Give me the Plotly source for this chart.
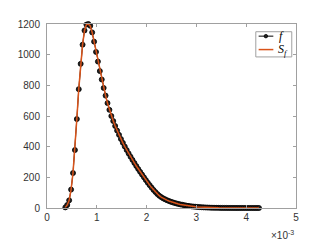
import plotly.graph_objects as go

# x values in units of 1e-3
x_e3 = [0.368, 0.4065, 0.445, 0.4835, 0.522, 0.5605, 0.599, 0.6375, 0.676, 0.7145,
        0.753, 0.7915, 0.83, 0.8685, 0.907, 0.9455, 0.984, 1.0225, 1.061, 1.0995,
        1.138, 1.1765, 1.215, 1.2535, 1.292, 1.3305, 1.369, 1.4075, 1.446, 1.4845,
        1.523, 1.5615, 1.6, 1.6385, 1.677, 1.7155, 1.754, 1.7925, 1.831, 1.8695,
        1.908, 1.9465, 1.985, 2.0235, 2.062, 2.1005, 2.139, 2.1775, 2.216, 2.2545,
        2.293, 2.3315, 2.37, 2.4085, 2.447, 2.4855, 2.524, 2.5625, 2.601, 2.6395,
        2.678, 2.7165, 2.755, 2.7935, 2.832, 2.8705, 2.909, 2.9475, 2.986, 3.0245,
        3.063, 3.1015, 3.14, 3.1785, 3.217, 3.2555, 3.294, 3.3325, 3.371, 3.4095,
        3.448, 3.4865, 3.525, 3.5635, 3.602, 3.6405, 3.679, 3.7175, 3.756, 3.7945,
        3.833, 3.8715, 3.91, 3.9485, 3.987, 4.0255, 4.064, 4.1025, 4.141, 4.1795,
        4.218, 4.2565]

f_vals = [4, 20, 50, 120, 228, 378, 580, 775, 940, 1065,
          1158, 1196, 1200, 1188, 1145, 1085, 1018, 955, 893, 838,
          783, 733, 684, 640, 600, 567, 535, 505, 477, 450,
          425, 401, 378, 356, 335, 314, 294, 274, 255, 236,
          218, 200, 182, 165, 149, 133, 118, 104, 91, 80,
          71, 63, 57, 51, 46, 41, 37, 33, 29.5, 26.5,
          23.5, 21, 18.5, 16, 14, 12, 10.5, 9, 8, 7,
          6, 5, 4.2, 3.5, 3, 2.5, 2, 1.7, 1.4, 1.2,
          1, 0.8, 0.7, 0.6, 0.5, 0.4, 0.35, 0.3, 0.25, 0.2,
          0.2, 0.15, 0.1, 0.1, 0.1, 0.05, 0.05, 0, 0, 0,
          0, 0]

s_vals = list(f_vals)

x_ticks = [0, 1, 2, 3, 4, 5]
y_ticks = [0, 200, 400, 600, 800, 1000, 1200]

AX = "#a0a0a0"
TXT = "#333333"
ORANGE = "#D95319"

fig = go.Figure()
fig.add_trace(go.Scatter(x=x_e3, y=f_vals, mode="lines+markers",
                         line=dict(color="black", width=1),
                         marker=dict(color="#222222", size=5, line=dict(color="black", width=0.8)),
                         cliponaxis=False, showlegend=False))
fig.add_trace(go.Scatter(x=x_e3, y=s_vals, mode="lines",
                         line=dict(color=ORANGE, width=1.5),
                         cliponaxis=False, showlegend=False))

axis_common = dict(showgrid=False, zeroline=False, showline=True, linecolor=AX, linewidth=1,
                   mirror="ticks", ticks="inside", ticklen=3, tickcolor=AX, tickwidth=1,
                   tickfont=dict(family="Liberation Sans, Arial", size=10, color=TXT))
fig.update_xaxes(range=[0, 5], tickvals=x_ticks, ticktext=[str(t) for t in x_ticks], **axis_common)
fig.update_yaxes(range=[0, 1200], tickvals=y_ticks, ticktext=[str(t) for t in y_ticks],
                 ticklabelstandoff=4, **axis_common)

# legend (manual)
fig.add_shape(type="rect", xref="paper", yref="paper", x0=0.8386, x1=0.983, y0=0.821, y1=0.958,
              line=dict(color=AX, width=1), fillcolor="white", layer="above")
fig.add_shape(type="line", xref="paper", yref="paper", x0=0.85, x1=0.909, y0=0.934, y1=0.934,
              line=dict(color="black", width=1), layer="above")
fig.add_shape(type="circle", xref="paper", yref="paper", x0=0.872, x1=0.886, y0=0.9245, y1=0.9435,
              line=dict(color="black", width=0.8), fillcolor="#222222", layer="above")
fig.add_shape(type="line", xref="paper", yref="paper", x0=0.85, x1=0.909, y0=0.861, y1=0.861,
              line=dict(color=ORANGE, width=1.5), layer="above")
fig.add_annotation(xref="paper", yref="paper", x=0.925, y=0.934, text="<i>f</i>", showarrow=False,
                   xanchor="left", yanchor="middle",
                   font=dict(family="Liberation Serif, Times New Roman", size=12, color="black"))
fig.add_annotation(xref="paper", yref="paper", x=0.918, y=0.861, text="<i>S<sub>f</sub></i>", showarrow=False,
                   xanchor="left", yanchor="middle",
                   font=dict(family="Liberation Serif, Times New Roman", size=12, color="black"))

fig.add_annotation(xref="paper", yref="paper", x=1.0, y=-0.147, text="×10<sup>-3</sup>", showarrow=False,
                   xanchor="right", yanchor="middle",
                   font=dict(family="Liberation Sans, Arial", size=10, color=TXT))

# page body has an 8px margin, so margins are offset accordingly
fig.update_layout(width=327, height=245, margin=dict(l=34, r=39, t=10, b=45),
                  paper_bgcolor="white", plot_bgcolor="white")

fig.write_html("out.html")
